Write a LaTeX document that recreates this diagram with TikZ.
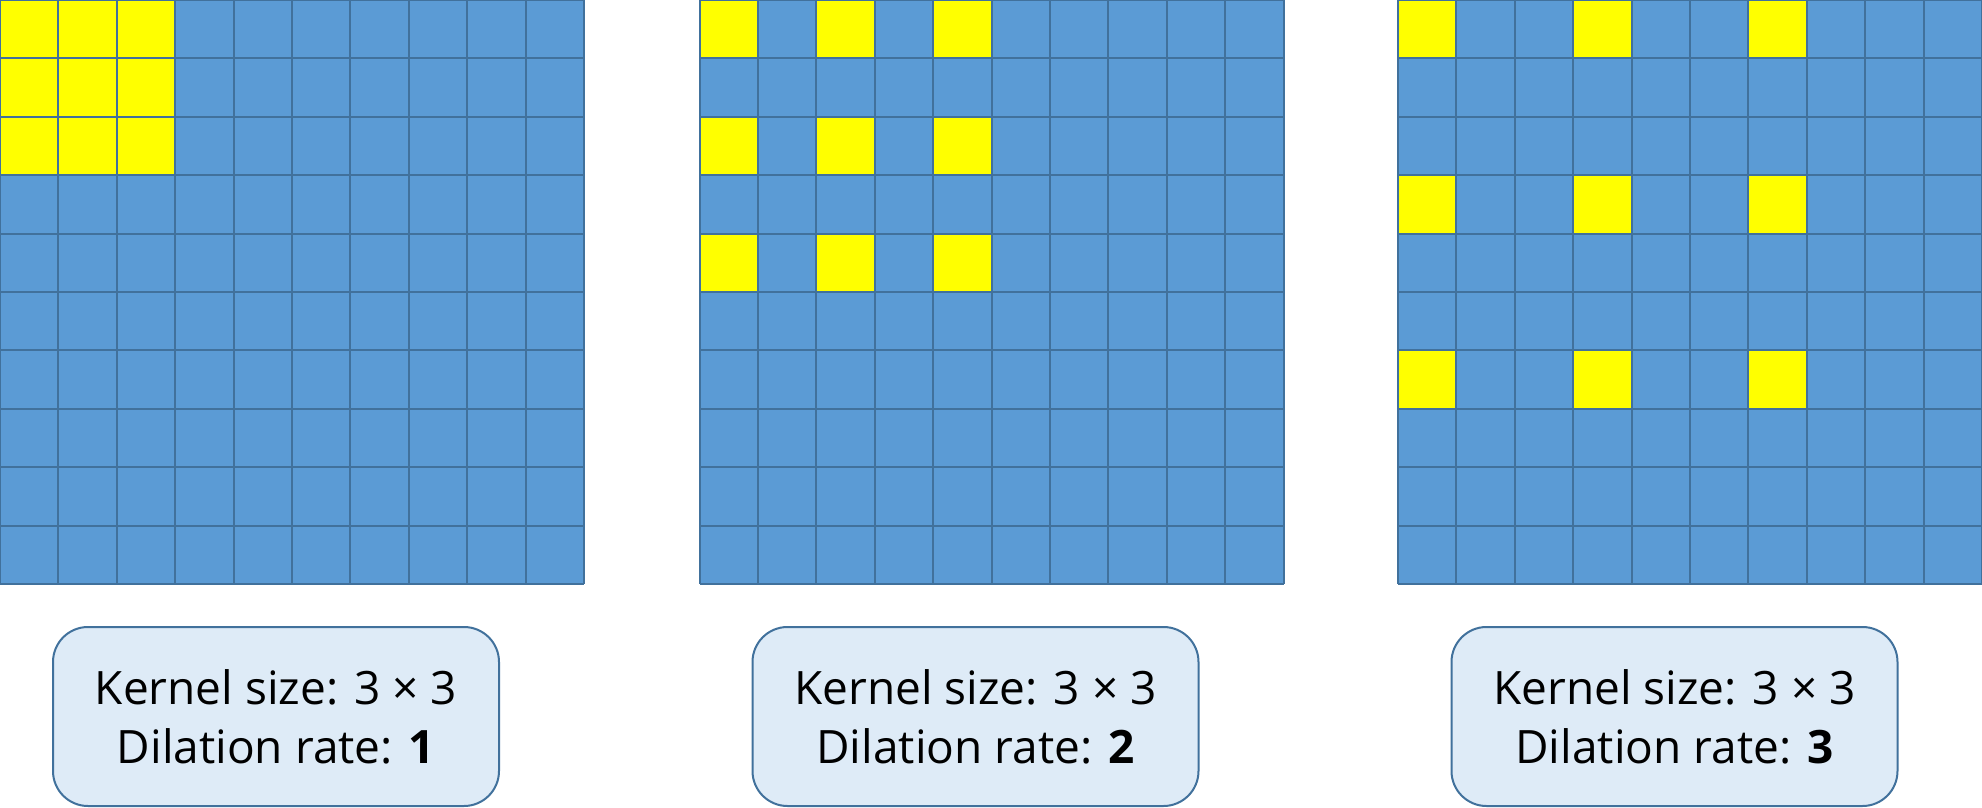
\documentclass[tikz,border=0pt]{standalone}
\usepackage{fontspec}
\setmainfont{Open Sans}
\definecolor{cellblue}{HTML}{5B9BD5}
\definecolor{edgeblue}{HTML}{41719C}
\definecolor{boxfill}{HTML}{DEEBF7}
\definecolor{kernyellow}{HTML}{FFFF00}
\tikzset{
  gridline/.style={draw=edgeblue, line width=2pt},
  labelbox/.style={draw=edgeblue, line width=2pt, fill=boxfill, rounded corners=35pt,
    minimum width=446pt, minimum height=179pt, align=center, inner sep=0pt,
    font=\fontsize{46}{59}\selectfont}
}
\begin{document}
\begin{tikzpicture}[x=1pt,y=-1pt]
\useasboundingbox (0,0) rectangle (1982,808);
\foreach \gx/\d in {0/1,699.5/2,1398/3}{
  \fill[cellblue] (\gx,0) rectangle ++(584,584);
  \foreach \i in {0,1,2}{
    \foreach \j in {0,1,2}{
      \fill[kernyellow] ({\gx+\i*\d*58.4},{\j*\d*58.4}) rectangle ++(58.4,58.4);
    }
  }
  \foreach \k in {0,...,10}{
    \draw[gridline] ({\gx+\k*58.4},0) -- ++(0,584);
    \draw[gridline] (\gx,{\k*58.4}) -- ++(584,0);
  }
}
\node[labelbox] (k1) at (276,716.5) {Kernel size: 3 × 3\\Dilation rate: \textbf{1}};
\node[labelbox] (k2) at (975.5,716.5) {Kernel size: 3 × 3\\Dilation rate: \textbf{2}};
\node[labelbox] (k3) at (1674.5,716.5) {Kernel size: 3 × 3\\Dilation rate: \textbf{3}};
\end{tikzpicture}
\end{document}
